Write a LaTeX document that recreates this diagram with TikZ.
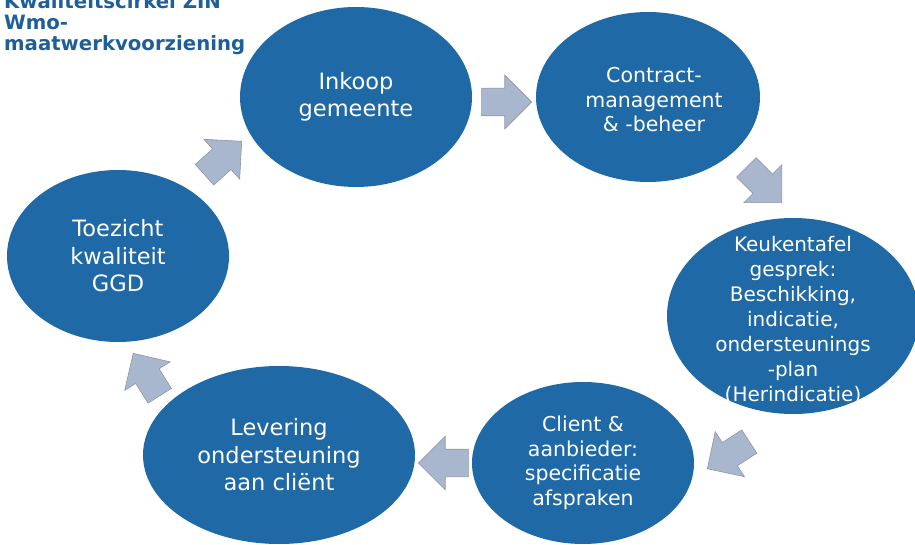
\documentclass[tikz,border=0pt]{standalone}
\usepackage{fontspec}
\setmainfont{DejaVu Sans}
\usepackage{xcolor}
\usepackage{tikz}
\usetikzlibrary{shapes.geometric, shapes.arrows, positioning, calc}

\definecolor{bubblefill}{RGB}{31,105,166}
\definecolor{arrowfill}{RGB}{168,183,206}
\definecolor{arrowline}{RGB}{141,150,163}
\definecolor{titleblue}{RGB}{30,94,153}

\begin{document}
\begin{tikzpicture}[
    x=1pt, y=-1pt,
    bubble/.style={ellipse, fill=bubblefill, inner sep=0pt},
    bubbletext/.style={text=white, align=center, inner sep=0pt, font=\fontsize{22.5}{27.5}\selectfont},
    smalltext/.style={bubbletext, font=\fontsize{20.5}{24.5}\selectfont},
    blockarrow/.style={single arrow, draw=arrowline, fill=arrowfill, line width=0.6pt,
        minimum height=50pt, single arrow head extend=13pt,
        single arrow tip angle=90, inner xsep=0pt, inner ysep=13.5pt, anchor=tip}
]
\useasboundingbox (0,0) rectangle (915,545);

% Title
\node[anchor=north west, align=left, inner sep=0pt, text=titleblue,
      font=\bfseries\fontsize{19.7}{21}\selectfont] (title) at (4,-7)
      {Kwaliteitscirkel ZIN\\Wmo-\\maatwerkvoorziening};

% Cycle
\node[bubble, minimum width=232pt, minimum height=180pt] (inkoop) at (356,97) {};
\node[bubble, minimum width=224pt, minimum height=170pt] (contract) at (648,97) {};
\node[bubble, minimum width=252pt, minimum height=196pt] (keuken) at (793,316) {};
\node[bubble, minimum width=222pt, minimum height=162pt] (client) at (583,463) {};
\node[bubble, minimum width=272pt, minimum height=178pt] (levering) at (279,455) {};
\node[bubble, minimum width=222pt, minimum height=172pt] (toezicht) at (118,256) {};

% Texts
\node[bubbletext] (inkoop-t) at (inkoop) {Inkoop\\gemeente};
\node[smalltext] (contract-t) at ($(contract)+(6,3)$) {Contract-\\management\\\& -beheer};
\node[smalltext, font=\fontsize{20}{25}\selectfont] (keuken-t) at ($(keuken)+(0,4)$)
    {Keukentafel\\gesprek:\\Beschikking,\\indicatie,\\ondersteunings\\-plan\\(Herindicatie)};
\node[smalltext] (client-t) at (client) {Client \&\\aanbieder:\\specificatie\\afspraken};
\node[bubbletext] (levering-t) at (levering) {Levering\\ondersteuning\\aan cliënt};
\node[bubbletext] (toezicht-t) at (toezicht) {Toezicht\\kwaliteit\\GGD};

% Arrows (placed by their tips)
\node[blockarrow, rotate=42] (a1) at (242,141) {};
\node[blockarrow] (a2) at (532,102) {};
\node[blockarrow, rotate=-45] (a3) at (782,203) {};
\node[blockarrow, rotate=213] (a4) at (707,469) {};
\node[blockarrow, rotate=180] (a5) at (418,463) {};
\node[blockarrow, rotate=122] (a6) at (133,353) {};

\end{tikzpicture}
\end{document}
